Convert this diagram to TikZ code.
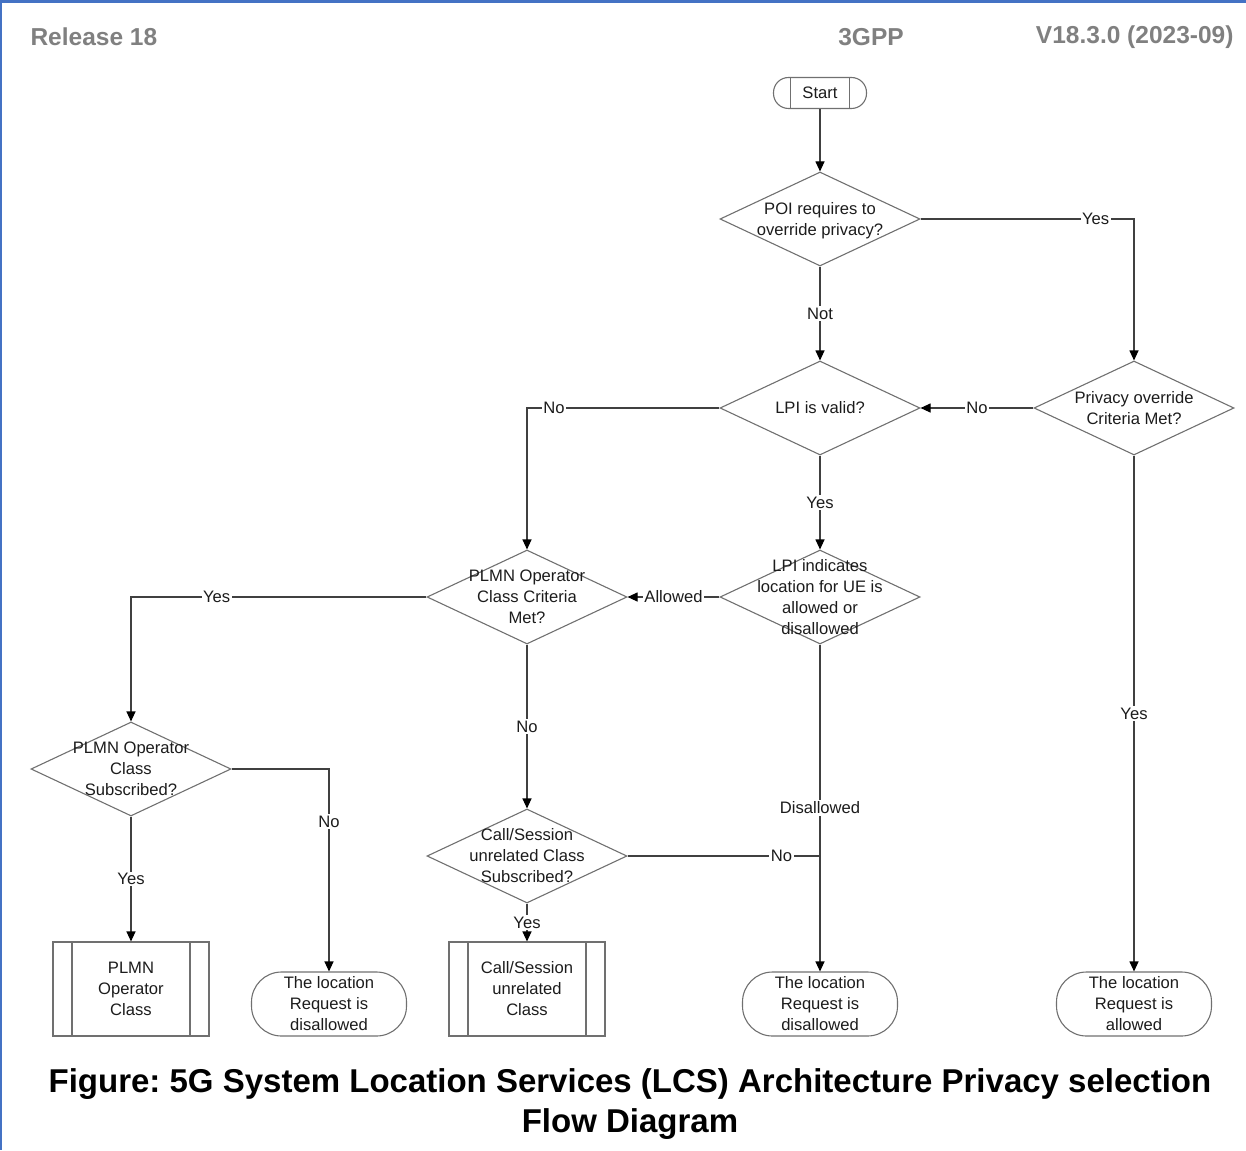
\documentclass[tikz,border=0pt]{standalone}
\usepackage{fontspec}
\setmainfont{Liberation Sans}
\frenchspacing
\usetikzlibrary{shapes.geometric, arrows.meta}
\definecolor{frameblue}{RGB}{68,114,196}
\definecolor{headgray}{RGB}{128,128,128}
\definecolor{outline}{RGB}{112,112,112}
\definecolor{wire}{RGB}{64,64,64}
\definecolor{ink}{RGB}{28,28,28}
% decision text may stick out of the diamond, so it takes no room
\newcommand{\dtext}[1]{\smash{\makebox[0pt]{\lower6pt\hbox{\begin{tabular}{@{}c@{}}#1\end{tabular}}}}}
\tikzset{%
  every node/.style={
    font=\fontsize{16.6pt}{21pt}\selectfont,
    text=ink},
  decision/.style={
    diamond, draw=outline, line width=1.1pt,
    minimum width=200pt, minimum height=94pt, inner sep=0pt},
  terminal/.style={
    rectangle, rounded corners=30pt, draw=outline, line width=1.1pt,
    minimum width=155pt, minimum height=64pt, inner sep=0pt, align=center},
  process/.style={
    rectangle, draw=outline, line width=1.1pt,
    minimum width=156pt, minimum height=94pt, inner sep=0pt, align=center,
    path picture={
      \draw[outline, line width=1.1pt]
        ([xshift=19pt]path picture bounding box.north west) -- ([xshift=19pt]path picture bounding box.south west)
        ([xshift=-19pt]path picture bounding box.north east) -- ([xshift=-19pt]path picture bounding box.south east);}},
  startbox/.style={
    rectangle, rounded corners=15pt, draw=outline, line width=1.1pt,
    minimum width=93pt, minimum height=31pt, inner sep=0pt,
    path picture={
      \draw[outline, line width=1.1pt]
        ([xshift=17pt]path picture bounding box.north west) -- ([xshift=17pt]path picture bounding box.south west)
        ([xshift=-17pt]path picture bounding box.north east) -- ([xshift=-17pt]path picture bounding box.south east);}},
  wire/.style={draw=wire, line width=1.1pt},
  flow/.style={wire, -{Triangle[length=10pt, width=9pt, color=black]}},
  lbl/.style={fill=white, inner sep=1.5pt},
  header/.style={font=\bfseries\fontsize{24.5pt}{28pt}\selectfont, text=headgray},
  caption/.style={font=\bfseries\fontsize{33pt}{40pt}\selectfont, text=black, align=center}
}

\begin{document}
\begin{tikzpicture}[x=1pt, y=-1pt]
  \useasboundingbox (0,0) rectangle (1246,1150);
  \fill[frameblue] (0,0) rectangle (1246,3);
  \fill[frameblue] (0,0) rectangle (2,1150);

  % page header
  \node[header, anchor=west] (rel) at (27,37) {Release 18};
  \node[header] (org) at (871,37) {3GPP};
  \node[header, anchor=east] (ver) at (1237,37) {V18.3.0 (2023-09)};

  \node[startbox] (start) at (820,93) {Start};
  \node[decision] (poi) at (820,219) {\dtext{POI requires to\\override privacy?}};
  \node[decision] (ovr) at (1134,408) {\dtext{Privacy override\\Criteria Met?}};
  \node[decision] (lpi) at (820,408) {\dtext{LPI is valid?}};
  \node[decision] (ind) at (820,597) {\dtext{LPI indicates\\location for UE is\\allowed or\\disallowed}};
  \node[decision] (crit) at (527,597) {\dtext{PLMN Operator\\Class Criteria\\Met?}};
  \node[decision] (subs) at (131,769) {\dtext{PLMN Operator\\Class\\Subscribed?}};
  \node[decision] (cs) at (527,856) {\dtext{Call/Session\\unrelated Class\\Subscribed?}};

  \node[process] (opcls) at (131,989) {PLMN\\Operator\\Class};
  \node[terminal] (deny1) at (329,1004) {The location\\Request is\\disallowed};
  \node[process] (cscls) at (527,989) {Call/Session\\unrelated\\Class};
  \node[terminal] (deny2) at (820,1004) {The location\\Request is\\disallowed};
  \node[terminal] (allow) at (1134,1004) {The location\\Request is\\allowed};

  \draw[flow] (start) -- (poi);
  \draw[flow] (poi.east) -| node[lbl, pos=0.41] {Yes} (ovr.north);
  \draw[flow] (poi) -- node[lbl] {Not} (lpi);
  \draw[flow] (ovr) -- node[lbl] {No} (lpi);
  \draw[flow] (lpi.west) -| node[lbl, pos=0.43] {No} (crit.north);
  \draw[flow] (lpi) -- node[lbl] {Yes} (ind);
  \draw[flow] (ind) -- node[lbl] {Allowed} (crit);
  \draw[flow] (crit.west) -| node[lbl, pos=0.355] {Yes} (subs.north);
  \draw[flow] (subs.east) -| node[lbl, pos=0.63] {No} (deny1.north);
  \draw[flow] (subs) -- node[lbl] {Yes} (opcls);
  \draw[flow] (crit) -- node[lbl] {No} (cs);
  \draw[flow] (cs) -- node[lbl] {Yes} (cscls);
  \draw[flow] (ind) -- node[lbl] {Disallowed} (deny2);
  \draw[wire] (cs.east) -- node[lbl, pos=0.8] {No} (cs.east -| ind.south);
  \draw[flow] (ovr) -- node[lbl] {Yes} (allow);

  \node[caption] (cap) at (630,1104) {Figure: 5G System Location Services (LCS) Architecture Privacy selection\\Flow Diagram};
\end{tikzpicture}
\end{document}
